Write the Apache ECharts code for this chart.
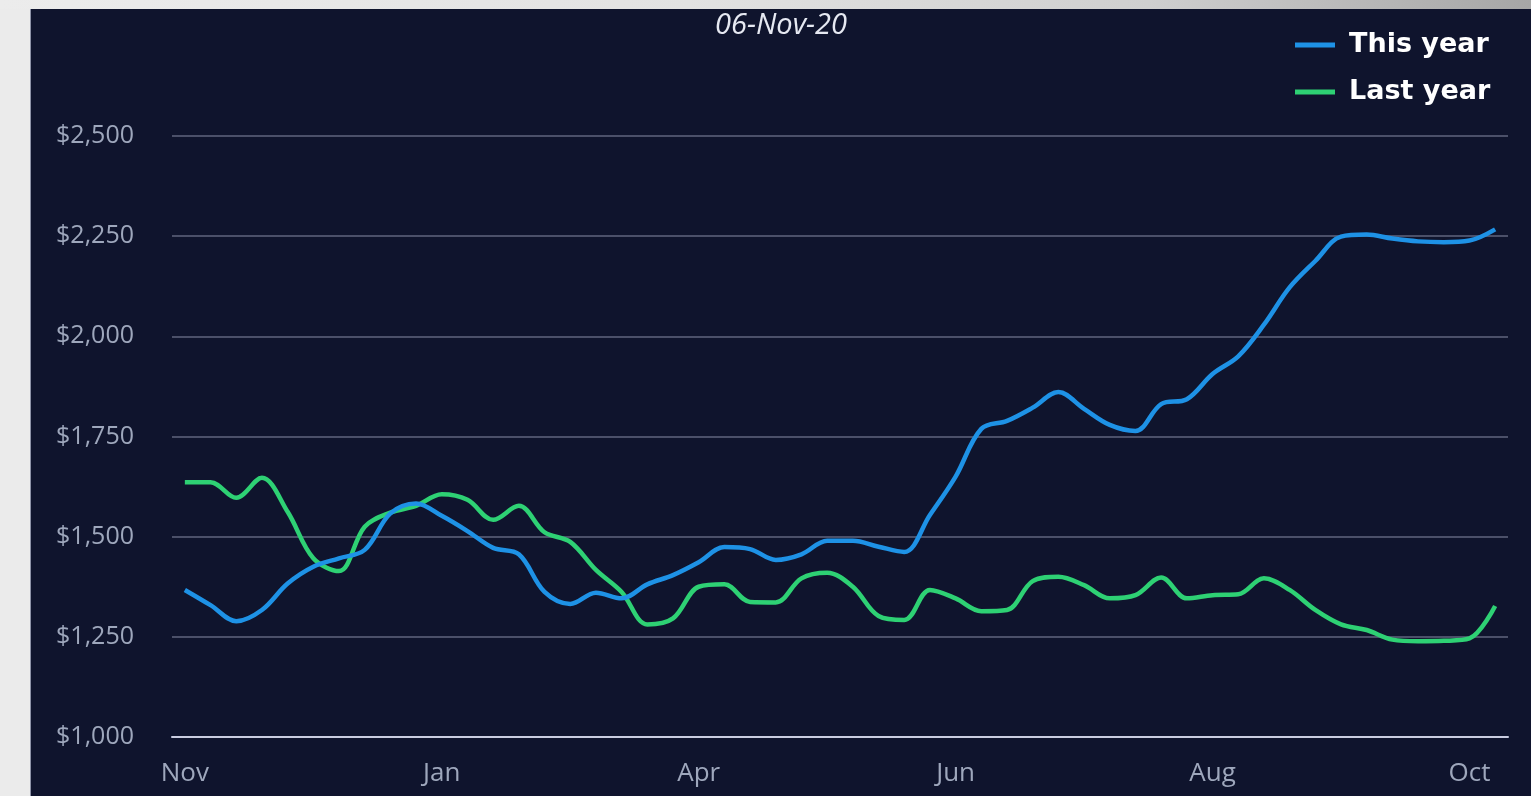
<!DOCTYPE html>
<html>
<head>
<meta charset="utf-8">
<script src="https://cdn.jsdelivr.net/npm/echarts@6/dist/echarts.min.js"></script>
<style>
  html, body { margin: 0; padding: 0; width: 1531px; height: 796px; overflow: hidden; background: #ebebeb; }
  #topstrip { position: absolute; left: 0; top: 0; width: 1531px; height: 9px;
    background: linear-gradient(to right, #ececec 0%, #e2e2e2 45%, #cfcfcf 75%, #a6a6a6 100%); }
  #chart { position: absolute; left: 30px; top: 9px; width: 1500px; height: 787px;
    background: #0f142d; border-left: 1px solid #8e93a8; }
</style>
</head>
<body>
<div id="topstrip"></div>
<div id="chart"></div>
<script>
// Weekly dates (categories)
var weeks = [
  '2019-11-15','2019-11-22','2019-11-29','2019-12-06','2019-12-13','2019-12-20','2019-12-27',
  '2020-01-03','2020-01-10','2020-01-17','2020-01-24','2020-01-31','2020-02-07','2020-02-14',
  '2020-02-21','2020-02-28','2020-03-06','2020-03-13','2020-03-20','2020-03-27','2020-04-03',
  '2020-04-10','2020-04-17','2020-04-24','2020-05-01','2020-05-08','2020-05-15','2020-05-22',
  '2020-05-29','2020-06-05','2020-06-12','2020-06-19','2020-06-26','2020-07-03','2020-07-10',
  '2020-07-17','2020-07-24','2020-07-31','2020-08-07','2020-08-14','2020-08-21','2020-08-28',
  '2020-09-04','2020-09-11','2020-09-18','2020-09-25','2020-10-02','2020-10-09','2020-10-16',
  '2020-10-23','2020-10-30','2020-11-06'
];
var monthNames = ['Jan','Feb','Mar','Apr','May','Jun','Jul','Aug','Sep','Oct','Nov','Dec'];

var thisYear = [
  1367, 1329, 1289, 1317, 1383, 1425, 1446, 1467, 1558, 1583,
  1552, 1514, 1472, 1456, 1362, 1332, 1360, 1346, 1381, 1404,
  1436, 1474, 1469, 1442, 1456, 1490, 1490, 1475, 1462, 1554,
  1650, 1769, 1789, 1822, 1861, 1819, 1779, 1764, 1831, 1843,
  1906, 1950, 2029, 2122, 2188, 2249, 2254, 2244, 2237, 2235,
  2239, 2267
];
var lastYear = [
  1636, 1636, 1597, 1647, 1562, 1446, 1414, 1525, 1560, 1577,
  1606, 1592, 1542, 1577, 1511, 1487, 1417, 1362, 1281, 1296,
  1375, 1381, 1337, 1336, 1396, 1410, 1375, 1302, 1292, 1367,
  1346, 1314, 1317, 1389, 1400, 1379, 1346, 1354, 1398, 1346,
  1354, 1356, 1396, 1367, 1317, 1281, 1267, 1243, 1239, 1240,
  1246, 1327
];
var yTicks = { min: 1000, max: 2500, interval: 250 };
var titleText = '06-Nov-20';

var chart = echarts.init(document.getElementById('chart'), null, { renderer: 'canvas' });
chart.setOption({
  animation: false,
  backgroundColor: 'transparent',
  title: {
    text: titleText, left: 'center', top: -3,
    textStyle: { color: '#e6e9f2', fontStyle: 'italic', fontWeight: 'normal', fontSize: 29, fontFamily: 'Open Sans' }
  },
  legend: {
    orient: 'vertical', left: 1259, top: 16,
    itemWidth: 40, itemHeight: 5, itemGap: 17,
    icon: 'rect',
    textStyle: { color: '#ffffff', fontWeight: 'bold', fontSize: 27, fontFamily: 'DejaVu Sans', lineHeight: 30, padding: [0, 0, 0, 9] },
    data: ['This year', 'Last year']
  },
  grid: { left: 141, right: 23, top: 127, bottom: 59, containLabel: false },
  xAxis: {
    type: 'category', data: weeks, boundaryGap: true,
    axisLine: { show: true, lineStyle: { color: '#c9cce0', width: 2 } },
    axisTick: { show: false },
    axisLabel: {
      interval: 9, margin: 24, color: '#9ea7bc', fontSize: 26, fontFamily: 'Open Sans',
      formatter: function (v) { return monthNames[parseInt(v.slice(5, 7), 10) - 1]; }
    },
    splitLine: { show: false }
  },
  yAxis: {
    type: 'value', min: yTicks.min, max: yTicks.max, interval: yTicks.interval,
    axisLine: { show: false }, axisTick: { show: false },
    axisLabel: {
      margin: 38, color: '#9ea7bc', fontSize: 25, fontFamily: 'Open Sans',
      formatter: function (v) { return '$' + v.toLocaleString('en-US'); }
    },
    splitLine: { lineStyle: { color: '#4b5069', width: 2 } }
  },
  series: [
    { name: 'This year', type: 'line', data: thisYear, smooth: 0.35, showSymbol: false,
      lineStyle: { color: '#1e92e6', width: 4.5 }, itemStyle: { color: '#1e92e6' }, z: 3 },
    { name: 'Last year', type: 'line', data: lastYear, smooth: 0.35, showSymbol: false,
      lineStyle: { color: '#2ed174', width: 4.5 }, itemStyle: { color: '#2ed174' }, z: 2 }
  ]
});
</script>
</body>
</html>
